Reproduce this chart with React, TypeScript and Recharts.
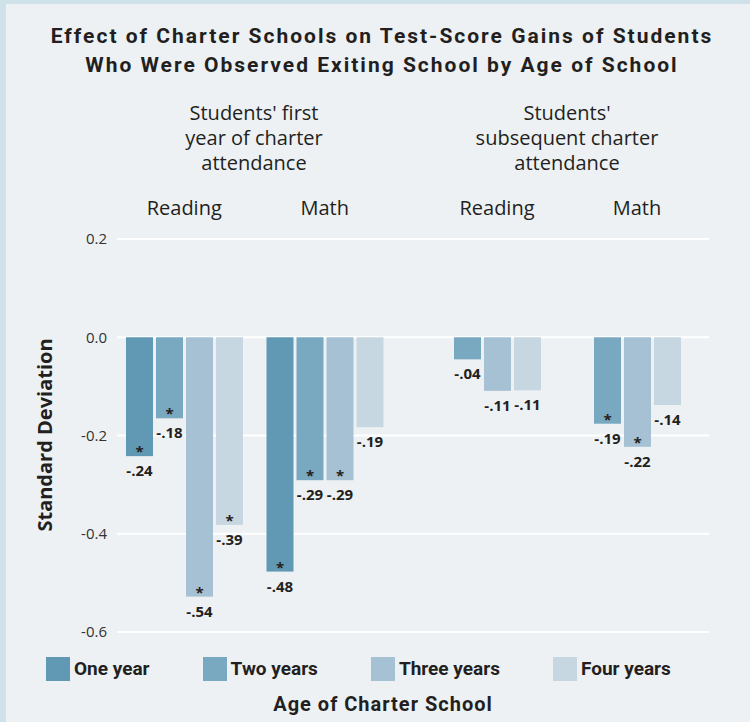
import React from 'react';
import { BarChart, Bar, XAxis, YAxis, CartesianGrid } from 'recharts';

// ---- data ----
const categories = ['Reading', 'Math', 'Reading', 'Math'];
const oneYear = [-0.242, -0.477, null, null];
const twoYears = [-0.165, -0.291, -0.045, -0.176];
const threeYears = [-0.528, -0.291, -0.109, -0.223];
const fourYears = [-0.382, -0.183, -0.108, -0.138];
const oneLabels = ['-.24', '-.48', null, null];
const twoLabels = ['-.18', '-.29', '-.04', '-.19'];
const threeLabels = ['-.54', '-.29', '-.11', '-.22'];
const fourLabels = ['-.39', '-.19', '-.11', '-.14'];
const oneSig = [true, true, false, false];
const twoSig = [true, true, false, true];
const threeSig = [true, true, false, true];
const fourSig = [true, false, false, false];
const yTicks = [-0.6, -0.4, -0.2, 0, 0.2];
const seriesNames = ['One year', 'Two years', 'Three years', 'Four years'];
const groupHeaders = [
  ["Students' first", 'year of charter', 'attendance'],
  ["Students'", 'subsequent charter', 'attendance'],
];
const title = [
  'Effect of Charter Schools on Test-Score Gains of Students',
  'Who Were Observed Exiting School by Age of School',
];

const COLORS = ['#6199b4', '#79a8c1', '#a6c1d4', '#c6d7e1'];
const BG = '#edf1f4';
const TEXT = '#231f20';

const data = categories.map((c, i) => ({
  category: c,
  one: oneYear[i],
  two: twoYears[i],
  three: threeYears[i],
  four: fourYears[i],
  oneLabel: oneLabels[i],
  twoLabel: twoLabels[i],
  threeLabel: threeLabels[i],
  fourLabel: fourLabels[i],
  oneSig: oneSig[i],
  twoSig: twoSig[i],
  threeSig: threeSig[i],
  fourSig: fourSig[i],
}));

// first-year panel and subsequent-years panel
const firstData = data.slice(0, 2);
const laterData = data.slice(2);

const makeShape = (key: string) => (props: any) => {
  const { x, y, width, height, fill, payload } = props;
  if (!payload || payload[key] == null) return <g />;
  const top = Math.min(y, y + height);
  const bottom = Math.max(y, y + height);
  const cx = x + width / 2;
  const label = payload[key + 'Label'];
  const sig = payload[key + 'Sig'];
  return (
    <g>
      <rect x={x} y={top} width={width} height={bottom - top} fill={fill} />
      {sig && (
        <text x={cx} y={bottom + 1} textAnchor="middle" fontFamily="Open Sans" fontWeight={700} fontSize={15} fill={TEXT}>
          *
        </text>
      )}
      {label && (
        <text x={cx} y={bottom + 20} textAnchor="middle" fontFamily="Open Sans" fontWeight={700} fontSize={15} fill={TEXT}>
          {label}
        </text>
      )}
    </g>
  );
};

const makeTick = (rows: any[]) => (props: any) => {
  const { x, y, payload } = props;
  const row = rows[payload.index];
  const shift = row && row.one == null ? 15 : 0;
  return (
    <text x={x + shift} y={y - 16} textAnchor="middle" fontFamily="Open Sans" fontSize={20} fill={TEXT}>
      {payload.value}
    </text>
  );
};

const keys = ['one', 'two', 'three', 'four'];

const renderBars = () =>
  keys.map((k, i) => (
    <Bar
      key={k}
      dataKey={k}
      name={seriesNames[i]}
      fill={COLORS[i]}
      barSize={27}
      isAnimationActive={false}
      shape={makeShape(k)}
    />
  ));

export default function App() {
  return (
    <div style={{ position: 'absolute', left: 0, top: 0, width: 750, height: 722, background: BG, overflow: 'hidden' }}>
      <div style={{ position: 'absolute', left: 0, top: 0, width: 6, height: 722, background: '#cfe1e9' }} />
      <div style={{ position: 'absolute', left: 0, top: 0, width: 750, height: 4, background: '#cfe1e9' }} />
      {title.map((t, i) => (
        <div
          key={i}
          style={{
            position: 'absolute', left: 0, width: 764, top: 22 + i * 29, textAlign: 'center',
            fontFamily: 'Roboto', fontWeight: 700, fontSize: 21, letterSpacing: 2, lineHeight: '28px', color: TEXT,
            whiteSpace: 'nowrap',
          }}
        >
          {t}
        </div>
      ))}
      {groupHeaders.map((lines, gi) => (
        <div
          key={gi}
          style={{
            position: 'absolute', left: (gi === 0 ? 254 : 567) - 120, width: 240, top: 100, textAlign: 'center',
            fontFamily: 'Open Sans', fontSize: 20, lineHeight: '25px', color: TEXT,
          }}
        >
          {lines.map((l, i) => (
            <div key={i}>{l}</div>
          ))}
        </div>
      ))}
      <div
        style={{
          position: 'absolute', left: 45 - 150, top: 435 - 14, width: 300, height: 28, lineHeight: '28px',
          textAlign: 'center', transform: 'rotate(-90deg)', fontFamily: 'Open Sans', fontWeight: 700,
          fontSize: 20, color: TEXT,
        }}
      >
        Standard Deviation
      </div>
      <div style={{ position: 'absolute', left: 0, top: 0 }}>
        <BarChart
          width={750}
          height={722}
          data={firstData}
          margin={{ top: 199, right: 41, bottom: 90, left: 57 }}
          barGap={3}
        >
          <CartesianGrid vertical={false} stroke="#ffffff" strokeWidth={2} />
          <XAxis
            dataKey="category"
            orientation="top"
            height={40}
            axisLine={false}
            tickLine={false}
            interval={0}
            padding={{ left: -3, right: 314 }}
            tick={makeTick(firstData)}
          />
          <YAxis
            type="number"
            width={60}
            domain={[-0.6, 0.2]}
            ticks={yTicks}
            allowDataOverflow
            axisLine={false}
            tickLine={false}
            tickMargin={4}
            tickFormatter={(v: number) => v.toFixed(1)}
            tick={{ fill: '#333333', fontSize: 15, fontFamily: 'Open Sans' }}
          />
          {renderBars()}
        </BarChart>
      </div>
      <div style={{ position: 'absolute', left: 0, top: 0 }}>
        <BarChart
          width={750}
          height={722}
          data={laterData}
          margin={{ top: 199, right: 41, bottom: 90, left: 117 }}
          barGap={3}
        >
          <XAxis
            dataKey="category"
            orientation="top"
            height={40}
            axisLine={false}
            tickLine={false}
            interval={0}
            padding={{ left: 295, right: 17 }}
            tick={makeTick(laterData)}
          />
          <YAxis type="number" hide domain={[-0.6, 0.2]} ticks={yTicks} allowDataOverflow />
          {renderBars()}
        </BarChart>
      </div>
      <div
        style={{
          position: 'absolute', left: 46, top: 657, display: 'flex', alignItems: 'center',
          fontFamily: 'Roboto', fontWeight: 700, fontSize: 19, color: TEXT, whiteSpace: 'nowrap',
        }}
      >
        {seriesNames.map((n, i) => (
          <div key={n} style={{ display: 'flex', alignItems: 'center', marginRight: 53 }}>
            <div style={{ width: 24, height: 24, background: COLORS[i], marginRight: 4 }} />
            <span style={{ lineHeight: '24px' }}>{n}</span>
          </div>
        ))}
      </div>
      <div
        style={{
          position: 'absolute', left: 233, width: 300, top: 690, textAlign: 'center',
          fontFamily: 'Roboto', fontWeight: 700, fontSize: 20, letterSpacing: 1, lineHeight: '28px', color: TEXT,
          whiteSpace: 'nowrap',
        }}
      >
        Age of Charter School
      </div>
    </div>
  );
}
